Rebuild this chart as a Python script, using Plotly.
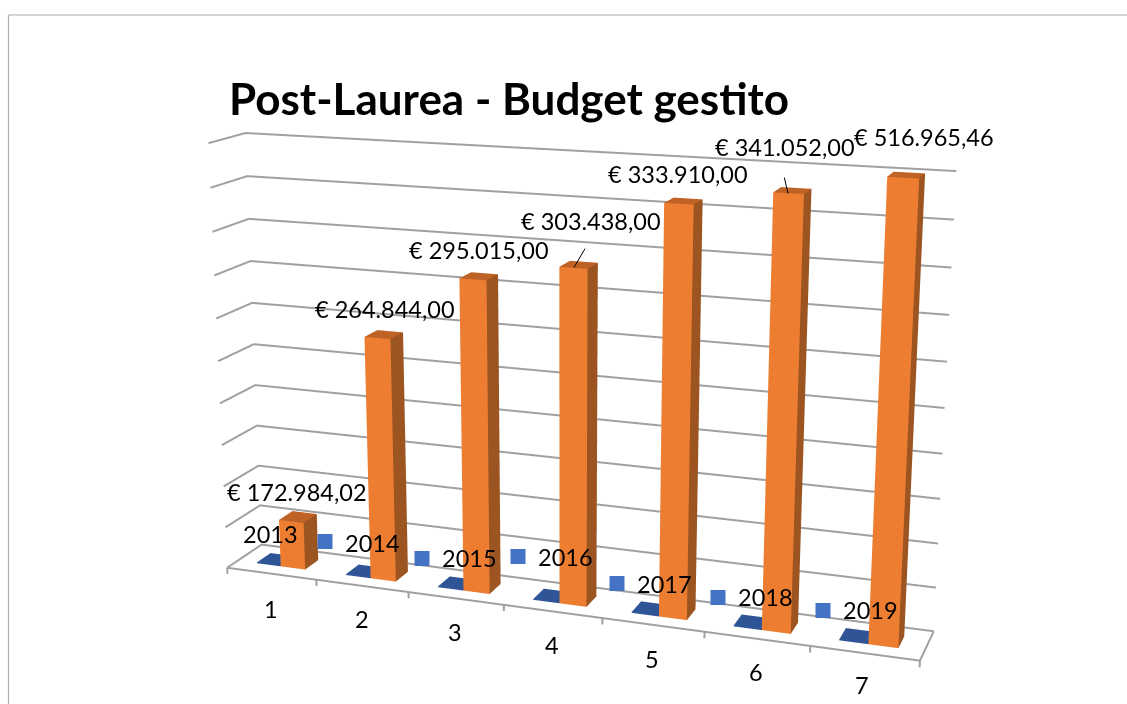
import numpy as np
import plotly.graph_objects as go

W, H = 1127, 704
FIG_H = 1657                     # taller scene = longer focal length, as in the reference's flat perspective
TOP = FIG_H / 2 - H / 2          # the scene centre stays on the window centre
categories = ["1", "2", "3", "4", "5", "6", "7"]
years = [2013, 2014, 2015, 2016, 2017, 2018, 2019]
budget = [172984.02, 264844.00, 295015.00, 303438.00, 333910.00, 341052.00, 516965.46]
budget_labels = ["€ 172.984,02", "€ 264.844,00", "€ 295.015,00", "€ 303.438,00",
                 "€ 333.910,00", "€ 341.052,00", "€ 516.965,46"]
AXIS_MIN, AXIS_STEP, N_GRID = 150000.0, 20000.0, 10
AXIS_TOP = AXIS_MIN + N_GRID * AXIS_STEP

# Pixel landmarks of the reference's wall/floor box: used only to calibrate the camera
land = np.array([(0,1,10,245,133),(1,1,10,957,170),(0,1,0,263,546),(1,1,0,934,630),(0,0,0,228,567),
                 (1,0,0,918,658),(0,0,10,207,143),(0,1,5,253,345),(1,1,5,947,407),(4/7,0,0,602,617),
                 (2/7,0,0,410,593)], float)
F_PX, CX, CY = (FIG_H / 2) / np.tan(np.pi / 8), W / 2, H / 2

def resid(p):
    e, c, up = p[:3], p[3:6], np.array([p[6], p[7], 1.0])
    F = c - e; F = F / np.linalg.norm(F)
    R = np.cross(F, up); R = R / np.linalg.norm(R)
    U = np.cross(R, F)
    X = np.c_[(land[:,0]-.5)*p[8], (land[:,1]-.5)*p[9], land[:,2]/10-.5] - e
    return np.r_[CX + F_PX*(X@R)/(X@F) - land[:,3], CY - F_PX*(X@U)/(X@F) - land[:,4]]

def calibrate():
    best = None
    for st in [(0.5,-1,0.3),(1,-2,0.2),(0.2,-1,0.5)]:
        s = np.array(st); s = s/np.linalg.norm(s)*F_PX/450
        p = np.r_[s,0,0,0,0,0,1.5,0.3]; lam = 1e-2
        r = resid(p); cost = r@r
        for _ in range(250):
            J = np.zeros((len(r),10))
            for k in range(10):
                q = p.copy(); q[k] += 1e-6
                J[:,k] = (resid(q)-r)/1e-6
            q = p - np.linalg.solve(J.T@J + lam*np.eye(10), J.T@r)
            rq = resid(q); c2 = rq@rq
            if np.isfinite(c2) and c2 < cost:
                p, r, cost = q, rq, c2; lam = max(lam*.5,1e-9)
            else:
                lam = min(lam*3,1e6)
        if best is None or cost < best[0]:
            best = (cost, p.copy())
    return best[1]
P = calibrate()

def bars(values, u0, u1, colors):
    xs, ys, zs, i, j, k, fc = [], [], [], [], [], [], []
    y0, y1 = 0.30, 0.70
    for n, v in enumerate(values):
        # values outside the axis range are clipped to it, as the original chart does
        top = min(max(v, AXIS_MIN + 0.02*AXIS_STEP), AXIS_TOP)
        a, b = n + u0, n + u1
        quads = [((a,y0,AXIS_MIN),(b,y0,AXIS_MIN),(b,y0,top),(a,y0,top),colors[0]),
                 ((b,y0,AXIS_MIN),(b,y1,AXIS_MIN),(b,y1,top),(b,y0,top),colors[1]),
                 ((a,y0,top),(b,y0,top),(b,y1,top),(a,y1,top),colors[2])]
        for q in quads:
            s = len(xs)
            for pt in q[:4]:
                xs.append(pt[0]); ys.append(pt[1]); zs.append(pt[2])
            i += [s,s]; j += [s+1,s+2]; k += [s+2,s+3]; fc += [q[4],q[4]]
    return go.Mesh3d(x=xs,y=ys,z=zs,i=i,j=j,k=k,facecolor=fc,flatshading=True,hoverinfo="skip",
                     lighting=dict(ambient=1,diffuse=0,specular=0,roughness=1,fresnel=0),showscale=False)

n = len(categories)
gx, gy, gz = [], [], []
for lev in range(N_GRID+1):
    z = AXIS_MIN + lev*AXIS_STEP
    gx += [0,0,n,None]; gy += [0,1,1,None]; gz += [z,z,z,None]
gx += [0,n,n,None]; gy += [0,0,1,None]; gz += [AXIS_MIN]*3+[None]
for t in range(n+1):
    gx += [t,t,None]; gy += [0,0,None]; gz += [AXIS_MIN, AXIS_MIN-0.15*AXIS_STEP, None]

fig = go.Figure()
fig.add_trace(go.Scatter3d(x=gx,y=gy,z=gz,mode="lines",line=dict(color="#A0A0A0",width=4),hoverinfo="skip",showlegend=False))
fig.add_trace(bars(years,0.22,0.49,["#2F5597","#2F5597","#2F5597"]))
fig.add_trace(bars(budget,0.49,0.765,["#ED7D31","#9C5420","#BF6226"]))

PAD = 0.3
noax = dict(showgrid=False,showline=False,zeroline=False,showticklabels=False,showbackground=False,
            showspikes=False,ticks="",title="")
fig.update_layout(
    width=W,height=FIG_H,margin=dict(l=0,r=0,t=0,b=0),paper_bgcolor="white",showlegend=False,
    scene=dict(domain=dict(x=[0,1],y=[0,1]),bgcolor="rgba(0,0,0,0)",aspectmode="manual",
        aspectratio=dict(x=P[8],y=P[9],z=1+2*PAD/N_GRID),
        xaxis=dict(noax,range=[0,n]),yaxis=dict(noax,range=[0,1]),
        zaxis=dict(noax,range=[AXIS_MIN-PAD*AXIS_STEP,AXIS_TOP+PAD*AXIS_STEP]),
        camera=dict(projection=dict(type="perspective"),
            eye=dict(x=P[0],y=P[1],z=P[2]),center=dict(x=P[3],y=P[4],z=P[5]),up=dict(x=P[6],y=P[7],z=1))))

FONT = "Lato, Carlito, sans-serif"
def py(y): return 1-(y+TOP)/FIG_H
def txt(x,y,s,size=23.5,xanchor="center"):
    fig.add_annotation(xref="paper",yref="paper",x=x/W,y=py(y-1.5),text=s,showarrow=False,xanchor=xanchor,yanchor="middle",
                       font=dict(family=FONT,size=size,color="black"))
txt(227,99,"<b>Post-Laurea - Budget gestito</b>",size=44,xanchor="left")
label_xy = [(297,493),(385,310),(479,251),(591,222),(678,175),(785,148),(924,138)]
for (x,y),s in zip(label_xy,budget_labels): txt(x,y,s)
year_xy = [(270,535),(372,544),(469,559),(565,558),(664,585),(765,598),(870,611)]
for (x,y),s in zip(year_xy,years): txt(x,y,str(s))
cat_xy = [(271,610),(362,620),(455,633),(552,646),(652,660),(756,673),(862,686)]
for (x,y),s in zip(cat_xy,categories): txt(x,y,s)
for hx,hy,dx,dy in [(574,267,14,-24),(788,193,-6,-26)]:
    fig.add_annotation(xref="paper",yref="paper",x=hx/W,y=py(hy),ax=dx,ay=dy,axref="pixel",ayref="pixel",
        text=" ",showarrow=True,arrowhead=0,arrowwidth=1,arrowcolor="black",standoff=0)
for cx,cy in [(325,541),(422,558),(518,556),(617,583),(718,597),(823,610)]:
    fig.add_shape(type="rect",xref="paper",yref="paper",x0=(cx-7.5)/W,x1=(cx+7.5)/W,y0=py(cy+7.5),y1=py(cy-7.5),
                  fillcolor="#4472C4",line_width=0)
fig.add_shape(type="line",xref="paper",yref="paper",x0=8.5/W,x1=1,y0=py(14.5),y1=py(14.5),line=dict(color="#ABABAB",width=1.2))
fig.add_shape(type="line",xref="paper",yref="paper",x0=8.5/W,x1=8.5/W,y0=py(H),y1=py(14.5),line=dict(color="#ABABAB",width=1.2))
post = ("var g=document.getElementById('{plot_id}');"
        "document.documentElement.style.overflow='hidden';"
        "document.body.style.margin='0';document.body.style.overflow='hidden';document.body.style.height='%dpx';"
        "g.style.position='absolute';g.style.left='0';g.style.top='%.1fpx';") % (H, -TOP)
fig.write_html("out.html", post_script=post)
